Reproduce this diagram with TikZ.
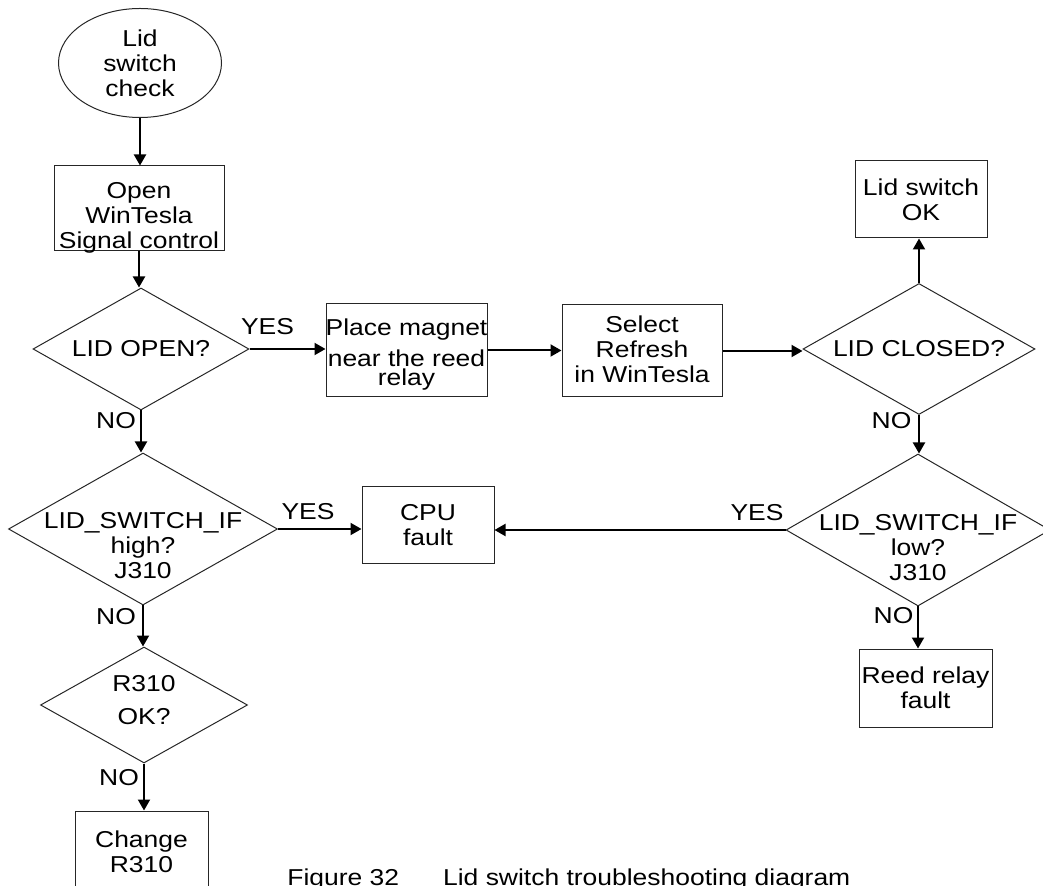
\documentclass[tikz,border=0pt]{standalone}
\usepackage{fontspec}
\setmainfont[FakeStretch=1.15]{Liberation Sans}
\usetikzlibrary{shapes.geometric}
\usetikzlibrary{arrows.meta}
\tikzset{
  outline/.style={draw=black!85, line width=0.5pt, inner sep=0pt},
  txt/.style={font=\fontsize{11.5}{12.5}\selectfont, align=center, inner sep=0pt},
  flow/.style={line width=1pt, -{Triangle[length=5.5pt,width=6pt]}},
  answer/.style={font=\fontsize{11.5}{12.5}\selectfont, inner sep=0pt}
}
% name, x, y, width, height, text shift, text
\newcommand{\procstep}[7]{\node[outline, rectangle, minimum width=#4*0.5pt, minimum height=#5*0.5pt, label={[txt,yshift=#6]center:{#7}}] (#1) at (#2,#3) {};}
\newcommand{\question}[7]{\node[outline, diamond, minimum width=#4*0.5pt, minimum height=#5*0.5pt, label={[txt,yshift=#6]center:{#7}}] (#1) at (#2,#3) {};}
\newcommand{\answer}[4]{\node[answer] (#1) at (#2,#3) {#4};}

\begin{document}
\begin{tikzpicture}[x=0.5pt, y=-0.5pt]
\useasboundingbox (0,0) rectangle (1043,886);
% left column
\node[outline, ellipse, minimum width=163*0.5pt, minimum height=109*0.5pt, label={[txt]center:{Lid\\switch\\check}}] (start) at (140,63) {};
\procstep{open}{139}{208.5}{170}{85}{-4.75pt}{Open\\WinTesla\\Signal control}
\question{lidopen}{141}{349}{216}{122}{0pt}{LID OPEN?}
\question{high}{143}{529}{269}{152}{-8.25pt}{LID\_SWITCH\_IF\\high?\\J310}
\question{rcheck}{144}{705}{207}{116}{2.25pt}{R310\\[4pt]OK?}
\procstep{change}{141.5}{851.5}{133}{81}{0pt}{Change\\R310}
% middle row
\procstep{magnet}{406.5}{350.5}{161}{93}{-2.25pt}{Place magnet\\[3pt]near the reed\\[-3pt]relay}
\procstep{refresh}{642}{351}{160}{92}{0.75pt}{Select\\Refresh\\in WinTesla}
\procstep{cpu}{428}{525.5}{132}{77}{0pt}{CPU\\fault}
% right column
\procstep{ok}{921}{199.5}{132}{77}{0pt}{Lid switch\\OK}
\question{lidclosed}{919}{349}{232}{131}{0pt}{LID CLOSED?}
\question{low}{918}{530}{264}{152}{-8.75pt}{LID\_SWITCH\_IF\\low?\\J310}
\procstep{reed}{925.5}{688}{133}{78}{0pt}{Reed relay\\fault}
% answers
\answer{yes1}{267.5}{327}{YES}
\answer{no1}{116}{421}{NO}
\answer{yes2}{308}{511.5}{YES}
\answer{no2}{116}{616.5}{NO}
\answer{no3}{119}{777.5}{NO}
\answer{no4}{891.5}{421}{NO}
\answer{yes3}{757}{512.5}{YES}
\answer{no5}{893.5}{616}{NO}
% arrows
\draw[flow] (start.south) -- (start.south |- open.north);
\draw[flow] (open.south) -- (open.south |- lidopen.north);
\draw[flow] (lidopen.east) -- (lidopen.east -| magnet.west);
\draw[flow] (magnet.east) -- (magnet.east -| refresh.west);
\draw[flow] (refresh.east) -- (refresh.east -| lidclosed.west);
\draw[flow] (lidclosed.north) -- (lidclosed.north |- ok.south);
\draw[flow] (lidclosed.south) -- (lidclosed.south |- low.north);
\draw[flow] (low.west) -- (low.west -| cpu.east);
\draw[flow] (low.south) -- (low.south |- reed.north);
\draw[flow] (lidopen.south) -- (lidopen.south |- high.north);
\draw[flow] (high.east) -- (high.east -| cpu.west);
\draw[flow] (high.south) -- (high.south |- rcheck.north);
\draw[flow] (rcheck.south) -- (rcheck.south |- change.north);
% caption
\node[answer, anchor=base west] (caption) at (287,885.5) {Figure 32\hspace{22pt}Lid switch troubleshooting diagram};
\end{tikzpicture}
\end{document}
